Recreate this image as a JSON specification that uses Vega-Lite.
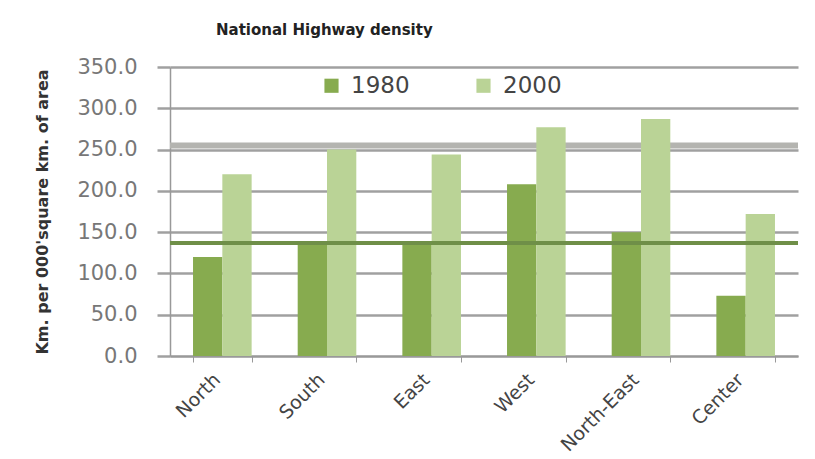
{
  "$schema": "https://vega.github.io/schema/vega-lite/v6.json",
  "autosize": {"type": "none"},
  "width": 628,
  "height": 289,
  "padding": {"left": 170, "top": 67, "right": 17, "bottom": 103},
  "background": "white",
  "title": {
    "text": "National Highway density",
    "anchor": "start",
    "frame": "group",
    "dx": 46,
    "offset": 18,
    "font": "DejaVu Sans",
    "fontSize": 15,
    "fontWeight": "bold",
    "color": "#222222"
  },
  "config": {
    "view": {"stroke": null},
    "font": "DejaVu Sans"
  },
  "layer": [
    {
      "data": {"values": [{"avg": 255}]},
      "mark": {"type": "rule", "color": "#b4b4b0", "strokeWidth": 6},
      "encoding": {"y": {"field": "avg", "type": "quantitative", "scale": {"domain": [0, 350]}}}
    },
    {
      "data": {
        "values": [
          {"region": "North", "year": "1980", "value": 120},
          {"region": "North", "year": "2000", "value": 220},
          {"region": "South", "year": "1980", "value": 137},
          {"region": "South", "year": "2000", "value": 250},
          {"region": "East", "year": "1980", "value": 137},
          {"region": "East", "year": "2000", "value": 244},
          {"region": "West", "year": "1980", "value": 208},
          {"region": "West", "year": "2000", "value": 277},
          {"region": "North-East", "year": "1980", "value": 150},
          {"region": "North-East", "year": "2000", "value": 287},
          {"region": "Center", "year": "1980", "value": 73},
          {"region": "Center", "year": "2000", "value": 172}
        ]
      },
      "mark": {"type": "bar"},
      "encoding": {
        "x": {
          "field": "region",
          "type": "nominal",
          "sort": null,
          "scale": {"paddingInner": 0.44, "paddingOuter": 0.22},
          "axis": {
            "title": null,
            "labelAngle": -45,
            "labelFontSize": 19,
            "labelColor": "#444444",
            "labelPadding": 8,
            "labelOffset": -12,
            "tickBand": "extent",
            "tickSize": 6,
            "tickColor": "#999999",
            "domainColor": "#999999",
            "domainWidth": 1.5,
            "grid": false
          }
        },
        "xOffset": {"field": "year", "type": "nominal"},
        "y": {
          "field": "value",
          "type": "quantitative",
          "scale": {"domain": [0, 350]},
          "axis": {
            "title": "Km. per 000'square km. of area",
            "titleFontSize": 16,
            "titleFontWeight": "bold",
            "titleColor": "#333333",
            "titlePadding": 26,
            "values": [0, 50, 100, 150, 200, 250, 300, 350],
            "format": ".1f",
            "labelFontSize": 21,
            "labelColor": "#777777",
            "labelPadding": 20,
            "tickSize": 13,
            "tickColor": "#a0a0a0",
            "tickWidth": 2.5,
            "domainColor": "#999999",
            "domainWidth": 1.5,
            "grid": true,
            "gridColor": "#a0a0a0",
            "gridWidth": 2.5
          }
        },
        "color": {
          "field": "year",
          "type": "nominal",
          "scale": {"domain": ["1980", "2000"], "range": ["#87ab4f", "#bad396"]},
          "legend": {
            "title": null,
            "orient": "none",
            "direction": "horizontal",
            "legendX": 150,
            "legendY": 7,
            "symbolType": "square",
            "symbolSize": 200,
            "symbolStrokeWidth": 0,
            "labelFontSize": 23,
            "labelColor": "#444444",
            "labelOffset": 8,
            "columnPadding": 62
          }
        }
      }
    },
    {
      "data": {"values": [{"avg": 137}]},
      "mark": {"type": "rule", "color": "#6f8f48", "strokeWidth": 4},
      "encoding": {"y": {"field": "avg", "type": "quantitative"}}
    }
  ]
}
